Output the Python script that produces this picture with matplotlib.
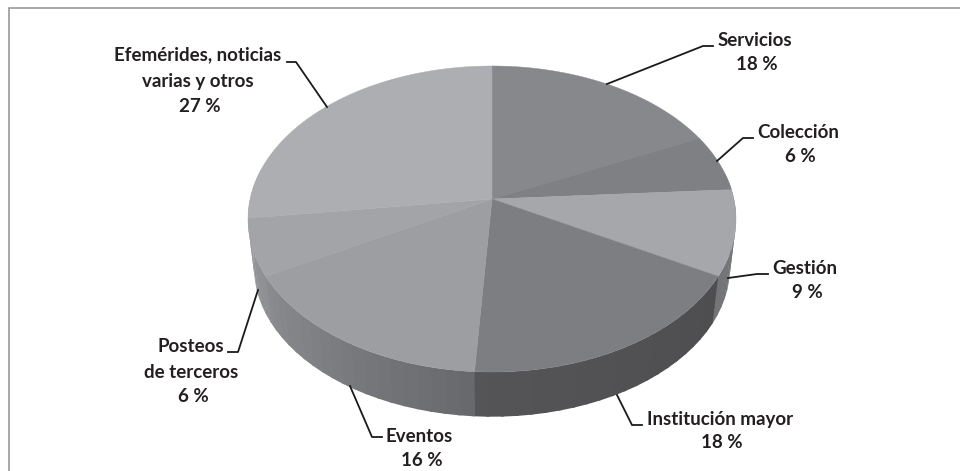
#!/usr/bin/env python3
"""3D-looking pie of post categories, drawn by hand in figure pixels."""

import numpy as np
import matplotlib
matplotlib.use("Agg")
import matplotlib.pyplot as plt
from matplotlib.patches import Polygon

# -------------------- DATA -------------------- #
categories = ["Servicios", "Colección", "Gestión", "Institución mayor",
              "Eventos", "Posteos\nde terceros", "Efemérides, noticias\nvarias y otros"]
values = [18, 6, 9, 18, 16, 6, 27]
top_colors = ["#87888b", "#7f8083", "#a6a7aa", "#7d7e81", "#9d9ea1", "#a3a4a7", "#adaeb1"]
# wall shade at start and end of each slice (clockwise)
wall_colors = [("#77787b", "#77787b"), ("#77787b", "#77787b"), ("#7a7b7e", "#727376"),
               ("#4e4e50", "#555557"), ("#68696c", "#8c8d90"), ("#8f9093", "#98999c"),
               ("#a3a4a7", "#a3a4a7")]

# -------------------- LAYOUT -------------------- #
W, H = 960, 471
apex = (492, 199)      # where the slices meet
A, B, K = 241.9, 150.4, 0.1307   # perspective of the disc
depth_apex = 49        # apex of the lower rim sits this far below
rim_scale = 0.975      # lower rim is a bit smaller, further from the eye

label_pos = [(755, 40), (798, 132), (805, 268), (720, 419), (419, 436), (191, 346), (198, 55)]
pct_pos = [(757, 64), (800, 157), (807, 292), (722, 443), (422, 461), (193, 396), (200, 107)]
leaders = [
    [(607, 84), (703, 46), (713, 46)],
    [(717, 161), (743, 138), (753, 138)],
    [(728, 278), (757, 274), (768, 274)],
    [(617, 395), (632, 425), (642, 425)],
    [(350, 386), (372, 437), (382, 437)],
    [(258, 290), (238, 352), (228, 352)],
    [(327, 107), (296, 62), (287, 62)],
]


def project(frac, scale=1.0, drop=0.0):
    """Map a clockwise fraction of the circle (0 = top) to image pixels."""
    t = 2 * np.pi * np.asarray(frac)
    x, y = np.sin(t), np.cos(t)
    d = 1 + K * y
    return apex[0] + scale * A * x / d, apex[1] + drop - scale * B * y / d


def mix(c0, c1, f):
    rgb0 = np.array(matplotlib.colors.to_rgb(c0))
    rgb1 = np.array(matplotlib.colors.to_rgb(c1))
    return rgb0 + (rgb1 - rgb0) * f


fig = plt.figure(figsize=(W / 100, H / 100), dpi=100)
ax = fig.add_axes([0, 0, 1, 1])
ax.set_xlim(0, W)
ax.set_ylim(H, 0)
ax.axis("off")

# frame: only top and left survive in the crop
ax.plot([9, 9, W], [H, 8, 8], color="#9a9a9a", lw=1.2, solid_joinstyle="miter")

edges = np.cumsum([0] + values) / sum(values)

# walls first, one polygon per shade band; each band runs on under the next
# one so no seam shows, also across slice borders
for i in range(len(values)):
    f0, f1 = edges[i], edges[i + 1]
    n = max(int((f1 - f0) * 120), 2)
    steps = np.linspace(f0, f1, n + 1)
    for j in range(n):
        seg = np.linspace(steps[j], steps[j + 1] + 0.002, 6)
        if np.all(np.cos(2 * np.pi * seg) > 0.15):
            continue  # back of the disc, hidden by the top face
        tx, ty = project(seg)
        bx, by = project(seg, rim_scale, depth_apex)
        pts = list(zip(tx, ty)) + list(zip(bx[::-1], by[::-1]))
        c = mix(wall_colors[i][0], wall_colors[i][1], j / n)
        ax.add_patch(Polygon(pts, closed=True, facecolor=c, edgecolor="none", zorder=2))

# top face
for i in range(len(values)):
    fr = np.linspace(edges[i], edges[i + 1], 80)
    xs, ys = project(fr)
    pts = [apex] + list(zip(xs, ys))
    ax.add_patch(Polygon(pts, closed=True, facecolor=top_colors[i], edgecolor=top_colors[i],
                         lw=0.3, zorder=3))

# leader lines and labels
txt = dict(family="Lato", weight="bold", fontsize=13.5, color="#231f20",
           ha="center", va="center", zorder=6)
for i, name in enumerate(categories):
    line = np.array(leaders[i])
    ax.plot(line[:, 0], line[:, 1], color="#1a1a1a", lw=1.3, zorder=5,
            solid_joinstyle="round")
    lines = name.split("\n")
    ax.text(label_pos[i][0], label_pos[i][1], lines[0], **txt)
    if len(lines) > 1:
        ax.text(label_pos[i][0], label_pos[i][1] + 26, lines[1], **txt)
    ax.text(pct_pos[i][0], pct_pos[i][1], f"{values[i]} %", **txt)

fig.savefig("out.png", dpi=100)
